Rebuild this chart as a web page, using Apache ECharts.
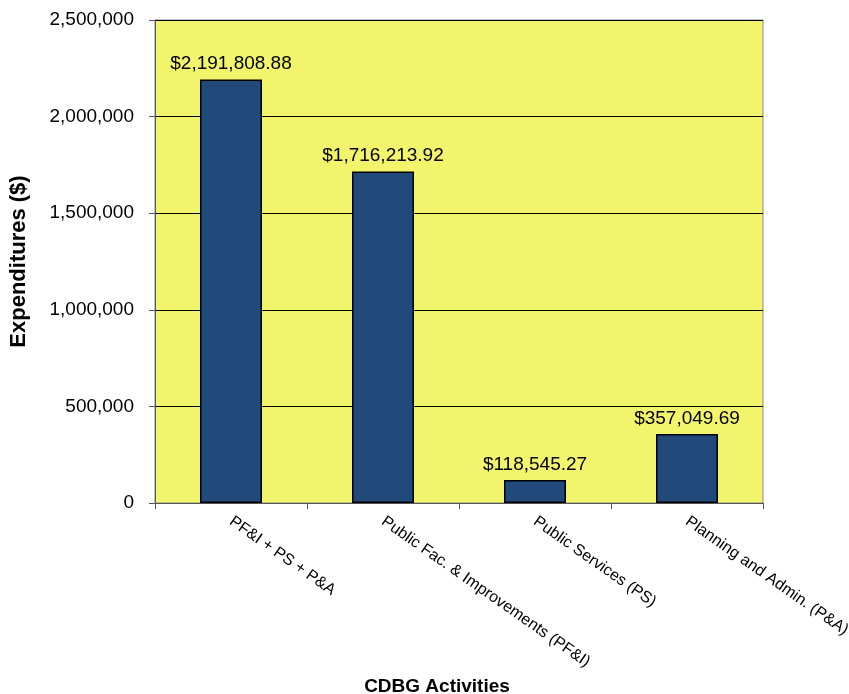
<!DOCTYPE html>
<html>
<head>
<meta charset="utf-8">
<script src="https://cdn.jsdelivr.net/npm/echarts@6/dist/echarts.min.js"></script>
<style>
  html, body { margin: 0; padding: 0; background: #fff; }
  #chart { width: 849px; height: 694px; }
</style>
</head>
<body>
<div id="chart"></div>
<script>
// CDBG expenditures by activity
var categories = ["PF&I + PS + P&A", "Public Fac. & Improvements (PF&I)", "Public Services (PS)", "Planning and Admin. (P&A)"];
var expenditures = [2191808.88, 1716213.92, 118545.27, 357049.69];

var chart = echarts.init(document.getElementById("chart"));

function money(v) {
  return "$" + v.toLocaleString("en-US", { minimumFractionDigits: 2, maximumFractionDigits: 2 });
}

var option = {
  animation: false,
  textStyle: { fontFamily: "Liberation Sans, Arial, sans-serif" },
  grid: {
    left: 155,
    right: 86,
    top: 20,
    bottom: 191,
    outerBoundsMode: "none",
    show: true,
    backgroundColor: "#F2F46C",
    borderColor: "#8c8c8c",
    borderWidth: 1
  },
  xAxis: {
    type: "category",
    data: categories,
    name: "CDBG Activities",
    nameLocation: "middle",
    nameGap: 171,
    nameTextStyle: { fontWeight: "bold", fontSize: 19, color: "#000", padding: [0, 44, 0, 0] },
    axisLine: { lineStyle: { color: "#555", width: 1 } },
    axisTick: { show: true, length: 6, lineStyle: { color: "#555" } },
    axisLabel: { rotate: -35, fontSize: 16, color: "#000", margin: 17, interval: 0 }
  },
  yAxis: {
    type: "value",
    min: 0,
    max: 2500000,
    interval: 500000,
    name: "Expenditures ($)",
    nameLocation: "middle",
    nameGap: 125,
    nameTextStyle: { fontWeight: "bold", fontSize: 22, color: "#000" },
    axisLine: { show: true, lineStyle: { color: "#555" } },
    axisTick: { show: true, length: 6, lineStyle: { color: "#555" } },
    axisLabel: {
      fontSize: 19,
      color: "#000",
      margin: 21,
      formatter: function (v) { return v.toLocaleString("en-US"); }
    },
    splitLine: { lineStyle: { color: "#000", width: 1 } }
  },
  series: [{
    type: "bar",
    data: expenditures,
    barWidth: 62,
    itemStyle: { color: "#214A7B", borderColor: "#000", borderWidth: 1.5 },
    label: {
      show: true,
      position: "top",
      distance: 6,
      fontSize: 19,
      color: "#000",
      formatter: function (p) { return money(p.value); }
    }
  }]
};

chart.setOption(option);
</script>
</body>
</html>
